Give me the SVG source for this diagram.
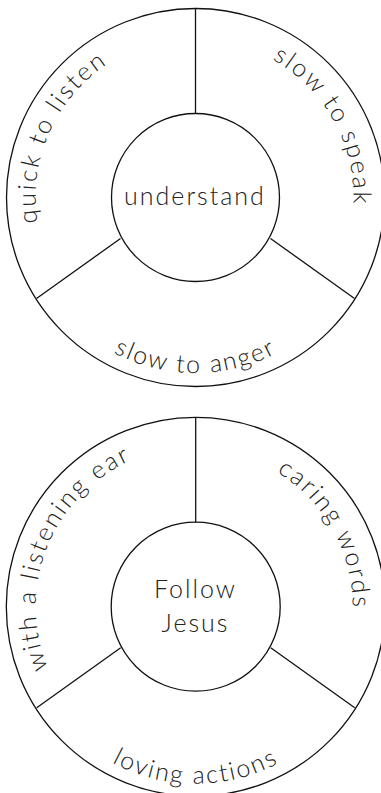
<svg xmlns="http://www.w3.org/2000/svg" xmlns:xlink="http://www.w3.org/1999/xlink" width="381" height="793" viewBox="0 0 381 793">
<style>
.ring{fill:none;stroke:#111;stroke-width:1.3}
.spoke{stroke:#111;stroke-width:1.3;fill:none}
.lbl{font-family:Lato,"DejaVu Sans",sans-serif;font-weight:300;font-size:25px;fill:#222;letter-spacing:2px}
.side{letter-spacing:2.3px}
.ctr{font-family:Lato,"DejaVu Sans",sans-serif;font-weight:300;font-size:25px;fill:#222;text-anchor:middle;letter-spacing:2px}
</style>
<defs>
<path id="p1l" d="M66.1,291.5 A160,160 0 0 1 178.8,38.4"/>
<path id="p1r" d="M198.3,39.5 A158,158 0 0 1 330.9,278.9"/>
<path id="p1b" d="M43.5,285.25 A175.5,175.5 0 0 0 347.5,285.25"/>
<path id="p2l" d="M69.6,705.2 A160,160 0 0 1 173.4,448.3"/>
<path id="p2r" d="M198.4,449.7 A157,157 0 0 1 330.3,687.6"/>
<path id="p2b" d="M42.4,695.2 A177,177 0 0 0 349.0,695.2"/>
</defs>
<g id="wheel1">
<circle class="ring" cx="195.5" cy="197.5" r="189"/>
<g id="connectors1">
<line class="spoke" x1="195.5" y1="8.5" x2="195.5" y2="113.5"/>
<line class="spoke" x1="120.5" y1="238.5" x2="36.5" y2="298.5"/>
<line class="spoke" x1="270.5" y1="238.5" x2="354.5" y2="298.5"/>
</g>
<g id="center1"><circle class="ring" cx="195.5" cy="197.5" r="84"/><text class="ctr" x="195" y="205">understand</text></g>
<g id="quick"><text class="lbl side"><textPath xlink:href="#p1l" href="#p1l" startOffset="50%" text-anchor="middle">quick to listen</textPath></text></g>
<g id="speak"><text class="lbl side"><textPath xlink:href="#p1r" href="#p1r" startOffset="50%" text-anchor="middle">slow to speak</textPath></text></g>
<g id="anger"><text class="lbl"><textPath xlink:href="#p1b" href="#p1b" startOffset="50%" text-anchor="middle">slow to anger</textPath></text></g>
</g>
<g id="wheel2">
<circle class="ring" cx="195.7" cy="606.7" r="189.4"/>
<g id="connectors2">
<line class="spoke" x1="195.7" y1="417.3" x2="195.7" y2="522.2"/>
<line class="spoke" x1="120.7" y1="647.7" x2="36.7" y2="707.7"/>
<line class="spoke" x1="270.7" y1="647.7" x2="354.7" y2="707.7"/>
</g>
<g id="center2"><circle class="ring" cx="195.7" cy="606.7" r="84.5"/><text class="ctr" x="195.5" y="598">Follow</text><text class="ctr" x="195.5" y="632">Jesus</text></g>
<g id="ear"><text class="lbl side"><textPath xlink:href="#p2l" href="#p2l" startOffset="50%" text-anchor="middle">with a listening ear</textPath></text></g>
<g id="words"><text class="lbl side"><textPath xlink:href="#p2r" href="#p2r" startOffset="50%" text-anchor="middle">caring words</textPath></text></g>
<g id="actions"><text class="lbl"><textPath xlink:href="#p2b" href="#p2b" startOffset="50%" text-anchor="middle">loving actions</textPath></text></g>
</g>
</svg>
